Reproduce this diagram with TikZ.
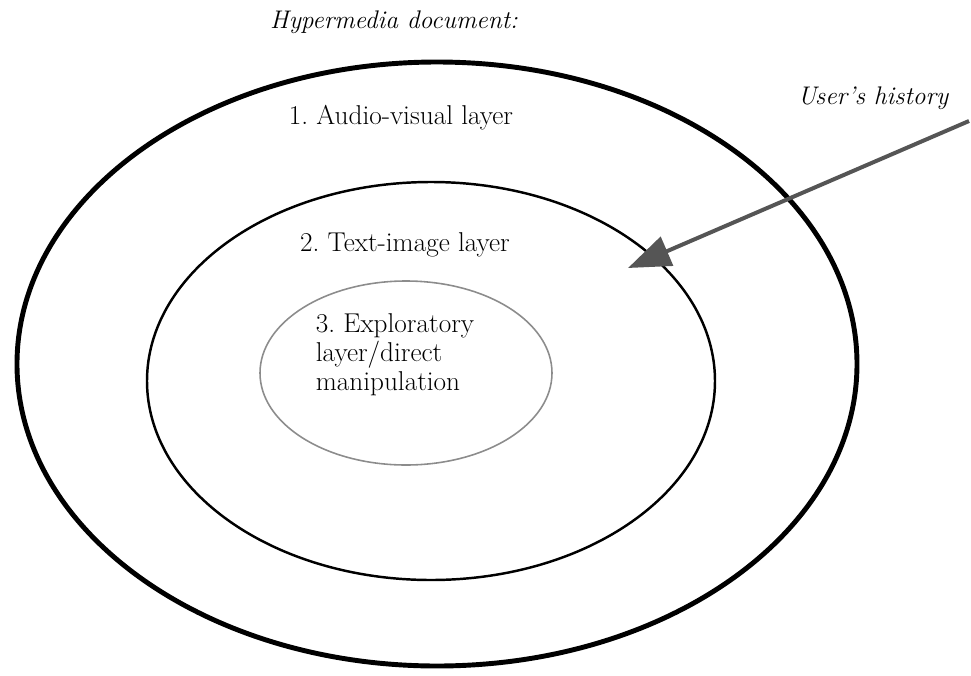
\documentclass[tikz,border=0pt]{standalone}
\usepackage{tikz}
\usetikzlibrary{shapes.geometric, arrows.meta, positioning}
\definecolor{arrowgray}{RGB}{85, 85, 85}

\begin{document}
\frenchspacing
\begin{tikzpicture}[
    layer/.style={ellipse, draw=black, inner sep=0pt},
    label/.style={align=center, font=\fontsize{15.5}{16.5}\selectfont},
    note/.style={font=\fontsize{14.5}{16}\selectfont\itshape},
    arrow/.style={-{Triangle[length=0.85cm, width=0.62cm]}, line width=0.08cm, color=arrowgray}
]
    \useasboundingbox (0,0) rectangle (19.42,-13.5);

    % the three layers
    \node[layer, line width=2.8pt, minimum width=16.8cm, minimum height=12.08cm] (outer) at (8.74,-7.28) {};
    \node[layer, line width=1.4pt, minimum width=11.36cm, minimum height=7.96cm] (middle) at (8.62,-7.62) {};
    \node[layer, draw=black!45, line width=0.9pt, minimum width=5.84cm, minimum height=3.68cm] (inner) at (8.12,-7.46) {};

    \node[note] (title) at (7.88,-0.44) {Hypermedia document:};
    \node[label] (audio) at (8.02,-2.36) {1. Audio-visual layer};
    \node[label] (text) at (8.1,-4.9) {2. Text-image layer};
    \node[label, align=left] (explore) at (7.9,-7.1) {3. Exploratory\\layer/direct\\manipulation};

    \node[note] (history) at (17.46,-1.96) {User's history};
    \coordinate (from) at (19.38,-2.42);
    \coordinate (into) at (12.56,-5.36);
    \draw[arrow] (from) -- (into);
\end{tikzpicture}
\end{document}
